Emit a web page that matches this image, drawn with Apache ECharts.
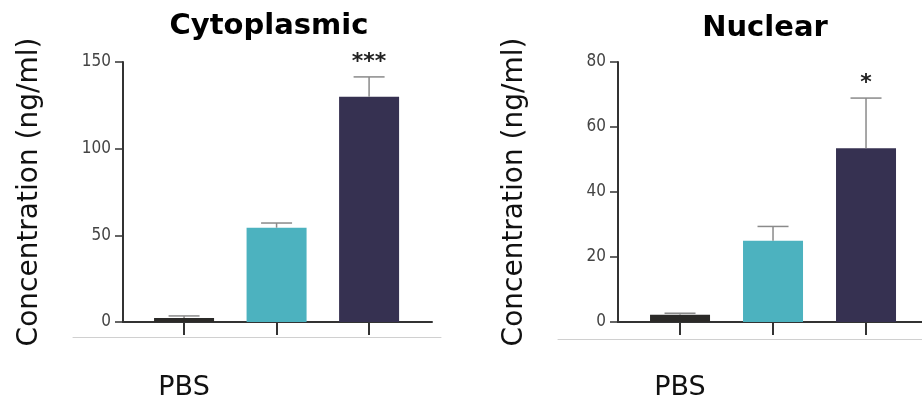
<!DOCTYPE html>
<html>
<head>
<meta charset="utf-8">
<script src="https://cdn.jsdelivr.net/npm/echarts@6/dist/echarts.min.js"></script>
<style>
  html, body { margin: 0; padding: 0; background: #ffffff; }
  #chart { width: 922px; height: 401px; }
</style>
</head>
<body>
<div id="chart"></div>
<script>
// Groups shown on each panel (only the first one is labelled)
const groups = ['PBS', '', ''];
const barColors = ['#2b2a28', '#4cb2bf', '#363151'];

// Cytoplasmic concentration (ng/ml): mean and SEM
const cytoMean = [2.3, 54.4, 130];
const cytoErr = [1.2, 2.7, 11.4];
const cytoSig = ['', '', '***'];
const cytoTicks = [0, 50, 100, 150];

// Nuclear concentration (ng/ml): mean and SEM
const nucMean = [2.2, 25, 53.5];
const nucErr = [0.5, 4.4, 15.4];
const nucSig = ['', '', '*'];
const nucTicks = [0, 20, 40, 60, 80];

const AXIS = '#333333';
const TEXT_FONT = 'DejaVu Sans';
const TICK_FONT = '"DejaVu Sans Condensed", "Liberation Sans Narrow", "Liberation Sans", sans-serif';

function barData(means) {
  return means.map((v, i) => ({ value: [i, v], itemStyle: { color: barColors[i] } }));
}

function errorSeries(idx, means, errs, sig) {
  return {
    type: 'custom',
    xAxisIndex: idx,
    yAxisIndex: idx,
    z: 5,
    data: means.map((m, i) => [i, m, errs[i]]),
    renderItem(params, api) {
      const x = api.value(0), m = api.value(1), e = api.value(2);
      const base = api.coord([x, m]);
      const top = api.coord([x, m + e]);
      const half = 15.5;
      const style = { stroke: '#8a8a8a', lineWidth: 1.5 };
      const children = [
        { type: 'line', shape: { x1: base[0], y1: base[1], x2: top[0], y2: top[1] }, style },
        { type: 'line', shape: { x1: top[0] - half, y1: top[1], x2: top[0] + half, y2: top[1] }, style }
      ];
      const s = sig[params.dataIndex];
      if (s) {
        children.push({
          type: 'text',
          style: {
            text: s, x: top[0], y: top[1] - 4,
            align: 'center', verticalAlign: 'bottom',
            font: 'bold 22px "DejaVu Sans"', fill: '#222222'
          }
        });
      }
      return { type: 'group', children };
    }
  };
}

function xAxisFor(idx, min, max) {
  return {
    type: 'value', gridIndex: idx, min, max,
    splitLine: { show: false },
    axisLine: { show: true, onZero: false, lineStyle: { color: AXIS, width: 2 } },
    axisTick: { show: true, length: 13, lineStyle: { color: AXIS, width: 2 }, customValues: [0, 1, 2] },
    axisLabel: {
      customValues: [0, 1, 2], margin: 52,
      formatter: v => groups[Math.round(v)],
      fontFamily: TEXT_FONT, fontSize: 27, color: '#111111'
    }
  };
}

function yAxisFor(idx, ticks, gap) {
  return {
    type: 'value', gridIndex: idx,
    min: ticks[0], max: ticks[ticks.length - 1], interval: ticks[1] - ticks[0],
    name: 'Concentration (ng/ml)', nameLocation: 'middle', nameRotate: 90, nameGap: gap,
    nameTextStyle: { fontFamily: TEXT_FONT, fontSize: 28, color: '#111111' },
    splitLine: { show: false },
    axisLine: { show: true, onZero: false, lineStyle: { color: AXIS, width: 2 } },
    axisTick: { show: true, length: 8, lineStyle: { color: AXIS, width: 1.5 } },
    axisLabel: { margin: 12, fontFamily: TICK_FONT, fontSize: 17, color: '#444444' }
  };
}

// Thin grey rule under each panel
function ruleAxis(idx) {
  return {
    type: 'value', gridIndex: idx, min: 0, max: 1,
    splitLine: { show: false }, axisTick: { show: false }, axisLabel: { show: false },
    axisLine: { show: true, onZero: false, lineStyle: { color: '#d0d0d0', width: 1 } }
  };
}
function hiddenY(idx) {
  return { type: 'value', gridIndex: idx, show: false };
}

const chart = echarts.init(document.getElementById('chart'));
chart.setOption({
  animation: false,
  backgroundColor: '#ffffff',
  title: [
    { text: 'Cytoplasmic', left: 264, top: 7, textAlign: 'center',
      textStyle: { fontFamily: TEXT_FONT, fontWeight: 'bold', fontSize: 29, color: '#000000' } },
    { text: 'Nuclear', left: 760, top: 9, textAlign: 'center',
      textStyle: { fontFamily: TEXT_FONT, fontWeight: 'bold', fontSize: 29, color: '#000000' } }
  ],
  grid: [
    { left: 123, top: 62, width: 309, height: 261.3 },
    { left: 618, top: 62, width: 304, height: 263.7 },
    { left: 73, top: 300, width: 368, height: 37 },
    { left: 558, top: 300, width: 364, height: 39 }
  ],
  xAxis: [
    xAxisFor(0, -0.66, 2.68),
    xAxisFor(1, -0.667, 2.602),
    ruleAxis(2),
    ruleAxis(3)
  ],
  yAxis: [
    yAxisFor(0, cytoTicks, 79),
    yAxisFor(1, nucTicks, 89),
    hiddenY(2),
    hiddenY(3)
  ],
  series: [
    { type: 'bar', xAxisIndex: 0, yAxisIndex: 0, barWidth: 60, data: barData(cytoMean) },
    errorSeries(0, cytoMean, cytoErr, cytoSig),
    { type: 'bar', xAxisIndex: 1, yAxisIndex: 1, barWidth: 60, data: barData(nucMean) },
    errorSeries(1, nucMean, nucErr, nucSig)
  ]
});
</script>
</body>
</html>
